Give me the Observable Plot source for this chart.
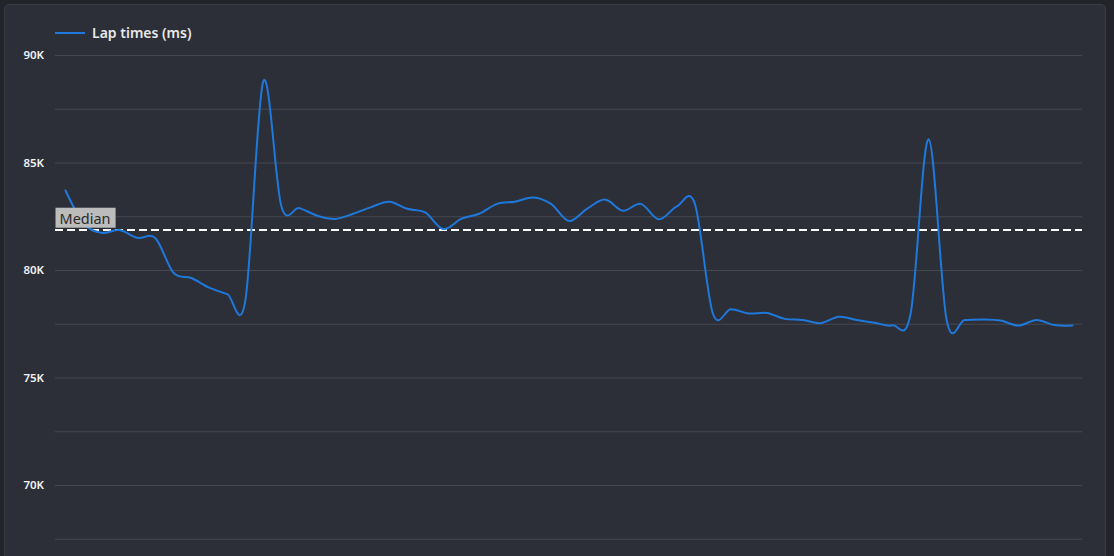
<!DOCTYPE html>
<html><head><meta charset="utf-8">
<script src="https://cdn.jsdelivr.net/npm/d3@7"></script>
<script src="https://cdn.jsdelivr.net/npm/@observablehq/plot@0.6"></script>
<style>
html,body{margin:0;padding:0;background:#232429;width:1114px;height:556px;overflow:hidden;font-family:"Noto Sans",sans-serif;}
#card{position:absolute;left:4px;top:4px;width:1100px;height:600px;background:#2c2f38;border:1px solid #3a3c44;border-radius:5px;}
#legend{position:absolute;left:55px;top:23px;display:flex;align-items:center;color:#e8e8e8;font-size:14px;font-weight:600;font-family:"Noto Sans",sans-serif;}
#legend .sw{display:inline-block;width:30px;height:2px;background:#1f78db;margin-right:7px;}
#chart{position:absolute;left:0;top:0;}
</style></head><body>
<div id="card"></div>
<div id="legend"><span class="sw"></span><span id="legendText"></span></div>
<div id="chart"></div>
<script>
const seriesLabel = "Lap times (ms)";
const medianLabel = "Median";
const laps = d3.range(1, 58);
const lapTimes = [
  83720, 82200, 81750, 81880, 81520, 81500, 79900, 79650, 79200, 78900,
  78600, 88800, 83000, 82900, 82550, 82400, 82640, 82950, 83200, 82870,
  82700, 81930, 82400, 82640, 83100, 83200, 83400, 83100, 82300, 82870,
  83300, 82780, 83100, 82380, 82980, 83100, 78000, 78200, 78000, 78020,
  77750, 77700, 77550, 77850, 77700, 77570, 77450, 78000, 86100, 77700,
  77700, 77720, 77670, 77440, 77700, 77460, 77440
];
const yTicks = [70000, 75000, 80000, 85000, 90000];
const gridTicks = [67500, 70000, 72500, 75000, 77500, 80000, 82500, 85000, 87500, 90000];

document.getElementById("legendText").textContent = seriesLabel;
const data = laps.map((lap, i) => ({lap, time: lapTimes[i]}));
const median = d3.median(lapTimes);

const plot = Plot.plot({
  width: 1114, height: 640,
  marginTop: 55, marginBottom: 47.5, marginLeft: 55, marginRight: 32,
  style: {background: "transparent", color: "#f0f0f0", fontFamily: "'Noto Sans', sans-serif"},
  x: {domain: [1, 57], inset: 10, axis: null},
  y: {domain: [65000, 90000], axis: null},
  marks: [
    Plot.gridY({ticks: gridTicks, stroke: "#45484f", strokeOpacity: 1}),
    Plot.axisY({ticks: yTicks, label: null, tickSize: 0, tickPadding: 11.5, tickFormat: d => d / 1000 + "K", fill: "#f2f2f2", fontWeight: 600, fontSize: 11.5}),
    Plot.ruleY([median], {stroke: "#ffffff", strokeWidth: 2, strokeDasharray: "8,4"}),
    Plot.line(data, {x: "lap", y: "time", stroke: "#1f78db", strokeWidth: 2, curve: "cardinal"}),
    Plot.text([median], {y: d => d, text: () => medianLabel, frameAnchor: "left", dx: 4, dy: -11, textAnchor: "start", fill: "#2b2b2b", fontSize: 14.5, fontWeight: 400})
  ]
});
document.getElementById("chart").appendChild(plot);

// background box behind the median label
const labelGroups = plot.querySelectorAll('g[aria-label="text"]');
const lg = labelGroups[labelGroups.length - 1];
const t = lg.querySelector("text");
const bb = t.getBBox();
const rect = document.createElementNS("http://www.w3.org/2000/svg", "rect");
rect.setAttribute("x", bb.x - 4);
rect.setAttribute("y", bb.y);
rect.setAttribute("width", bb.width + 9);
rect.setAttribute("height", bb.height);
rect.setAttribute("fill", "#bcbcbc");
const tr = t.getAttribute("transform");
if (tr) rect.setAttribute("transform", tr);
t.parentNode.insertBefore(rect, t);
</script>
</body></html>
